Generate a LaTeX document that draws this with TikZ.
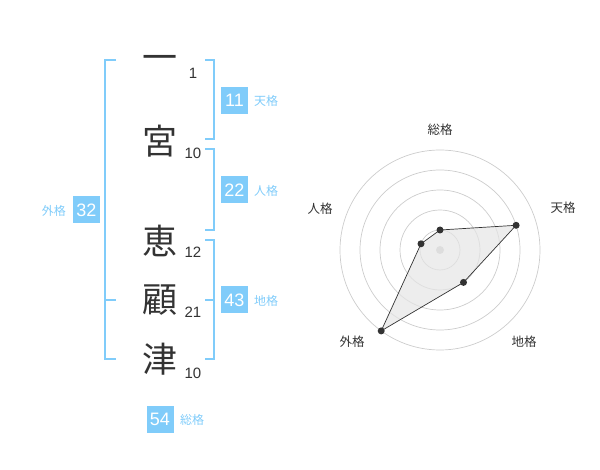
\documentclass[tikz,border=0pt]{standalone}
\usepackage{fontspec}
\setmainfont{Liberation Sans}
\newfontfamily\cjk{Noto Sans CJK JP}
\definecolor{sky}{HTML}{80CCFA}
\definecolor{ink}{HTML}{333333}
\definecolor{ring}{HTML}{CCCCCC}
\begin{document}
\begin{tikzpicture}[x=1pt,y=-1pt,
  kanji/.style={anchor=base,inner sep=0pt,text=ink,font=\cjk\fontsize{35}{35}\selectfont},
  strokes/.style={anchor=base,inner sep=0pt,text=ink,font=\fontsize{15}{15}\selectfont},
  bracket/.style={draw=sky,line width=2pt},
  valbox/.style={fill=sky,text=white,minimum size=27pt,inner sep=0pt,font=\fontsize{18}{18}\selectfont},
  gname/.style={inner sep=0pt,text=sky,font=\cjk\fontsize{12}{12}\selectfont},
  axislabel/.style={inner sep=0pt,text=ink,font=\cjk\fontsize{12.5}{12.5}\selectfont},
  dot/.style={circle,fill=ink,inner sep=0pt,minimum size=7pt}]
\useasboundingbox (0,0) rectangle (600,470);
% characters
\node[kanji] (k1) at (160,71) {一};
\node[kanji] (k2) at (160,155) {宮};
\node[kanji] (k3) at (160,255) {恵};
\node[kanji] (k4) at (160,313) {顧};
\node[kanji] (k5) at (160,373) {津};
\node[strokes] (s1) at (193,79) {1};
\node[strokes] (s2) at (193,159) {10};
\node[strokes] (s3) at (193,258) {12};
\node[strokes] (s4) at (193,318) {21};
\node[strokes] (s5) at (193,379) {10};
% brackets
\draw[bracket] (116,60) -- (105,60) -- (105,359) -- (116,359);
\draw[bracket] (105,300) -- (116,300);
\draw[bracket] (205,60) -- (214,60) -- (214,139) -- (205,139);
\draw[bracket] (205,149) -- (214,149) -- (214,230) -- (205,230);
\draw[bracket] (205,240) -- (214,240) -- (214,359) -- (205,359);
\draw[bracket] (205,300) -- (214,300);
% values
\node[valbox] (ten) at (234.5,100.5) {11};
\node[gname,anchor=west] at (254,101) {天格};
\node[valbox] (jin) at (234.5,190) {22};
\node[gname,anchor=west] at (254,191) {人格};
\node[valbox] (chi) at (234.5,300) {43};
\node[gname,anchor=west] at (254,301) {地格};
\node[valbox] (gai) at (86.5,210) {32};
\node[gname,anchor=east] at (66,211) {外格};
\node[valbox] (sou) at (160,419) {54};
\node[gname,anchor=west] at (180,420) {総格};
% radar
\coordinate (c) at (440,250);
\foreach \r in {20,40,60,80,100} \draw[ring,line width=0.7pt] (c) circle[radius=\r];
\fill[ring] (c) circle[radius=4];
\coordinate (pS) at (440,230);
\coordinate (pT) at (516.1,225.3);
\coordinate (pC) at (463.5,282.4);
\coordinate (pG) at (381.2,330.9);
\coordinate (pJ) at (421,243.8);
\filldraw[fill=black!10,fill opacity=0.7,draw=ink,line width=0.7pt] (pS) -- (pT) -- (pC) -- (pG) -- (pJ) -- cycle;
\foreach \p in {pS,pT,pC,pG,pJ} \node[dot] at (\p) {};
\node[axislabel] (lS) at (440,130) {総格};
\node[axislabel] (lT) at (563,208) {天格};
\node[axislabel] (lJ) at (320,209) {人格};
\node[axislabel] (lG) at (352,342) {外格};
\node[axislabel] (lC) at (524,342) {地格};
\end{tikzpicture}
\end{document}
